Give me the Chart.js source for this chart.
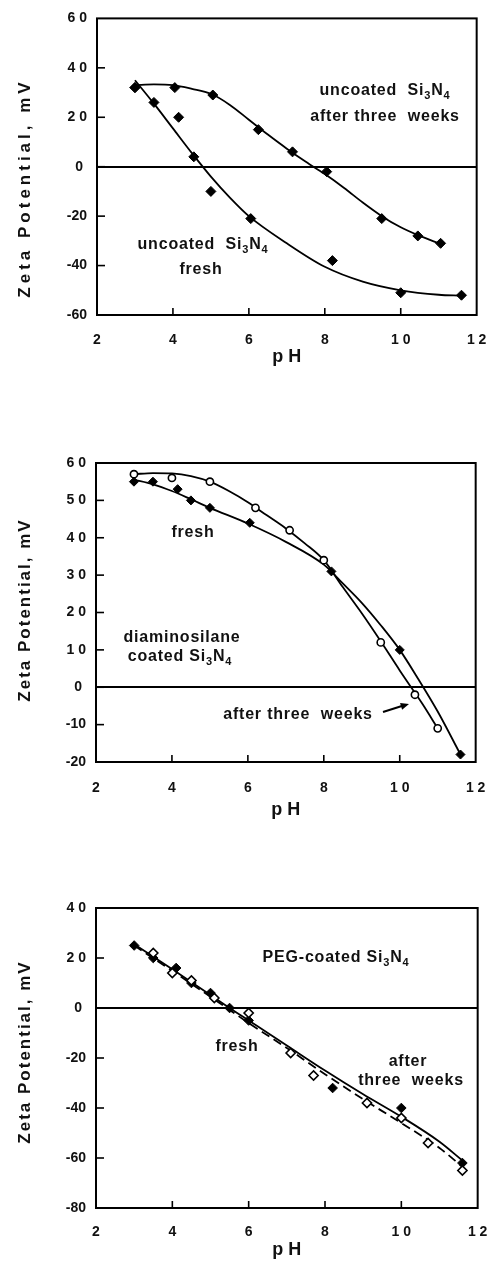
<!DOCTYPE html>
<html><head><meta charset="utf-8">
<script src="https://cdn.jsdelivr.net/npm/chart.js@4"></script>
<style>
html,body{margin:0;padding:0;background:#fff;width:503px;height:1262px;overflow:hidden;}
canvas{position:absolute;left:0;}
</style></head><body>
<canvas id="c1" width="503" height="380" style="top:0px"></canvas>
<canvas id="c2" width="503" height="430" style="top:400px"></canvas>
<canvas id="c3" width="503" height="402" style="top:860px"></canvas>
<script>
// ---------- DATA ----------
const xTickVals = [2, 4, 6, 8, 10, 12];
const xTickLabels = ["2", "4", "6", "8", "1 0", "1 2"];

// Panel 1: uncoated Si3N4
const yTickVals1 = [-60, -40, -20, 0, 20, 40, 60];
const yTickLabels1 = ["-60", "-40", "-20", "0 ", "2 0", "4 0", "6 0"];
const phFresh1 = [3.0, 3.5, 4.15, 4.55, 5.0, 6.05, 8.2, 10.0, 11.6];
const zetaFresh1 = [32, 26, 20, 4, -10, -21, -38, -51, -52];
const phAged1 = [3.0, 4.05, 5.05, 6.25, 7.15, 8.05, 9.5, 10.45, 11.05];
const zetaAged1 = [32, 32, 29, 15, 6, -2, -21, -28, -31];
const phFitFresh1 = [3.0, 3.5, 4.0, 4.5, 5.0, 5.5, 6.0, 7.0, 8.0, 9.0, 10.0, 11.0, 11.6];
const zetaFitFresh1 = [35, 25.5, 15.5, 5.5, -4, -12.5, -20, -31, -40.5, -46.5, -50, -51.8, -52.2];
const phFitAged1 = [3.0, 3.5, 4.0, 4.5, 5.0, 5.5, 6.0, 6.5, 7.0, 7.5, 8.0, 8.5, 9.0, 9.5, 10.0, 10.5, 11.05];
const zetaFitAged1 = [33, 33.3, 33, 31.5, 29.5, 25, 19, 13, 7.3, 2, -3, -8.5, -14.5, -20, -24.5, -28, -31.3];

// Panel 2: diaminosilane coated Si3N4
const yTickVals2 = [-20, -10, 0, 10, 20, 30, 40, 50, 60];
const yTickLabels2 = ["-20", "-10", "0 ", "1 0", "2 0", "3 0", "4 0", "5 0", "6 0"];
const phFresh2 = [3.0, 3.5, 4.15, 4.5, 5.0, 6.05, 8.2, 10.0, 11.6];
const zetaFresh2 = [55, 55, 53, 50, 48, 44, 31, 10, -18];
const phAged2 = [3.0, 4.0, 5.0, 6.2, 7.1, 8.0, 9.5, 10.4, 11.0];
const zetaAged2 = [57, 56, 55, 48, 42, 34, 12, -2, -11];
const phFitFresh2 = [3.0, 3.5, 4.0, 4.5, 5.0, 6.0, 7.0, 8.0, 8.5, 9.0, 9.5, 10.0, 10.5, 11.0, 11.6];
const zetaFitFresh2 = [55.5, 54.3, 52.5, 50.3, 48, 43.8, 38.9, 32.8, 27.8, 22.6, 16.6, 10, 2, -6.5, -18];
const phFitAged2 = [3.0, 3.5, 4.0, 4.5, 5.0, 5.5, 6.0, 6.5, 7.0, 7.5, 8.0, 8.5, 9.0, 9.5, 10.0, 10.3, 10.6, 11.0];
const zetaFitAged2 = [57, 57.3, 57.2, 56.5, 55, 52.5, 49.5, 46, 42.5, 38.5, 34, 26.8, 19.8, 12.3, 4.5, 0, -4.5, -11];

// Panel 3: PEG-coated Si3N4
const yTickVals3 = [-80, -60, -40, -20, 0, 20, 40];
const yTickLabels3 = ["-80", "-60", "-40", "-20", "0 ", "2 0", "4 0"];
const phFresh3 = [3.0, 3.5, 4.1, 4.5, 5.0, 5.5, 6.0, 8.2, 10.0, 11.6];
const zetaFresh3 = [25, 20, 16, 10, 6, 0, -5, -32, -40, -62];
const phAged3 = [3.5, 4.0, 4.5, 5.1, 6.0, 7.1, 7.7, 9.1, 10.0, 10.7, 11.6];
const zetaAged3 = [22, 14, 11, 4, -2, -18, -27, -38, -44, -54, -65];
const phFitFresh3 = [3.0, 4.0, 5.0, 5.5, 6.0, 7.0, 8.0, 9.0, 10.0, 11.0, 11.6];
const zetaFitFresh3 = [25.5, 15.5, 5.2, 0, -5, -15, -25, -34.5, -43.5, -53.5, -61];
const phFitAged3 = [3.0, 4.0, 5.0, 6.0, 7.0, 8.0, 9.0, 10.0, 11.0, 11.6];
const zetaFitAged3 = [25, 14.8, 4.5, -6, -16, -26.5, -36.5, -46, -56, -63.5];

// ---------- HELPERS ----------
const FONT = "'Liberation Sans', Arial, Helvetica, sans-serif";
const INK = '#111';
const pts = (xs, ys) => xs.map((x, i) => ({x, y: ys[i]}));

function pointSet(xs, ys, style, filled, r) {
  return {data: pts(xs, ys), showLine: false, pointStyle: style, pointRadius: r, pointHoverRadius: r,
    pointBackgroundColor: filled ? '#000' : '#fff', pointBorderColor: '#000', pointBorderWidth: filled ? 1 : 1.6};
}
function lineSet(xs, ys, dash) {
  return {data: pts(xs, ys), showLine: true, pointRadius: 0, borderColor: '#000', borderWidth: 1.8,
    cubicInterpolationMode: 'monotone', borderDash: dash || [], fill: false};
}
function setLS(ctx, ls) { if ('letterSpacing' in ctx) ctx.letterSpacing = ls + 'px'; }
function drawRich(ctx, segs, cx, cy, size, ls) {
  const main = `bold ${size}px ${FONT}`, sub = `bold ${Math.round(size * 0.68)}px ${FONT}`;
  setLS(ctx, ls);
  let total = 0;
  const widths = segs.map(s => { ctx.font = s[1] ? sub : main; const w = ctx.measureText(s[0]).width; total += w; return w; });
  let x = cx - total / 2;
  ctx.textAlign = 'left'; ctx.textBaseline = 'middle'; ctx.fillStyle = INK;
  segs.forEach((s, i) => { ctx.font = s[1] ? sub : main; ctx.fillText(s[0], x, cy + (s[1] ? size * 0.32 : 0)); x += widths[i]; });
}

function makePanel(id, top, area, yMin, yMax, yStep, yVals, yLabels, datasets, texts, ytitle, arrow, tickPad, titlePad) {
  const cv = document.getElementById(id);
  const H = cv.height;
  const framePlugin = {
    id: 'frame' + id,
    beforeDatasetsDraw(chart) {
      const {ctx, chartArea: a, scales: {x, y}} = chart;
      ctx.save();
      ctx.strokeStyle = '#000'; ctx.lineWidth = 2;
      ctx.strokeRect(a.left, a.top, a.right - a.left, a.bottom - a.top);
      ctx.lineWidth = 1.6;
      x.ticks.forEach(t => {
        if (t.value > x.min && t.value < x.max) {
          const px = x.getPixelForValue(t.value);
          ctx.beginPath(); ctx.moveTo(px, a.bottom); ctx.lineTo(px, a.bottom - 7); ctx.stroke();
        }
      });
      y.ticks.forEach(t => {
        if (t.value > y.min && t.value < y.max) {
          const py = y.getPixelForValue(t.value);
          ctx.beginPath(); ctx.moveTo(a.left, py); ctx.lineTo(a.left + 8, py); ctx.stroke();
        }
      });
      ctx.restore();
    },
    afterDraw(chart) {
      const ctx = chart.ctx;
      ctx.save();
      texts.forEach(t => drawRich(ctx, t.segs, t.x, t.y - top, 16, 0.8));
      // y axis title
      ctx.save();
      ctx.translate(ytitle.x, ytitle.y - top);
      ctx.rotate(-Math.PI / 2);
      ctx.font = `bold 17px ${FONT}`;
      setLS(ctx, ytitle.ls);
      ctx.textAlign = 'center'; ctx.textBaseline = 'middle'; ctx.fillStyle = INK;
      ctx.fillText('Zeta Potential, mV', 0, 0);
      ctx.restore();
      if (arrow) {
        const [x1, y1, x2, y2] = [arrow[0], arrow[1] - top, arrow[2], arrow[3] - top];
        ctx.strokeStyle = '#000'; ctx.fillStyle = '#000'; ctx.lineWidth = 2;
        ctx.beginPath(); ctx.moveTo(x1, y1); ctx.lineTo(x2 - 4, y2 + 1); ctx.stroke();
        const ang = Math.atan2(y2 - y1, x2 - x1);
        ctx.beginPath();
        ctx.moveTo(x2, y2);
        ctx.lineTo(x2 - 9 * Math.cos(ang - 0.4), y2 - 9 * Math.sin(ang - 0.4));
        ctx.lineTo(x2 - 9 * Math.cos(ang + 0.4), y2 - 9 * Math.sin(ang + 0.4));
        ctx.closePath(); ctx.fill();
      }
      ctx.restore();
    }
  };
  return new Chart(cv, {
    type: 'scatter',
    data: {datasets},
    options: {
      responsive: false, animation: false, devicePixelRatio: 1,
      events: [],
      layout: {padding: {left: 0, top: area.top - top, right: 503 - area.right, bottom: 0}},
      plugins: {legend: {display: false}, tooltip: {enabled: false}},
      scales: {
        x: {
          type: 'linear', position: 'bottom', min: 2, max: 12,
          afterFit: s => { s.height = H - (area.bottom - top); },
          ticks: {stepSize: 2, autoSkip: false, maxRotation: 0, padding: tickPad, color: INK,
            font: {family: FONT, size: 14, weight: 'bold'},
            callback: v => { const i = xTickVals.indexOf(v); return i >= 0 ? xTickLabels[i] : ''; }},
          grid: {display: false, drawTicks: false, tickLength: 0},
          border: {display: false},
          title: {display: true, text: 'p H', color: INK, font: {family: FONT, size: 18, weight: 'bold'},
            padding: {top: 0, bottom: titlePad}}
        },
        y: {
          type: 'linear', position: 'left', min: yMin, max: yMax,
          afterFit: s => { s.width = area.left; },
          ticks: {stepSize: yStep, autoSkip: false, padding: 10, color: INK,
            font: {family: FONT, size: 14, weight: 'bold'},
            callback: v => { const i = yVals.indexOf(v); return i >= 0 ? yLabels[i] : ''; }},
          grid: {display: true, drawTicks: false, tickLength: 0, lineWidth: 2,
            color: c => (c.tick && c.tick.value === 0) ? '#000' : 'rgba(0,0,0,0)'},
          border: {display: false}
        }
      }
    },
    plugins: [framePlugin]
  });
}

const SI = [['Si'], ['3', 1], ['N'], ['4', 1]];

makePanel('c1', 0, {left: 97, right: 484, top: 16, bottom: 315}, -60, 60, 20, yTickVals1, yTickLabels1,
  [
    pointSet(phFresh1, zetaFresh1, 'rectRot', true, 5),
    pointSet(phAged1, zetaAged1, 'rectRot', true, 5),
    lineSet(phFitFresh1, zetaFitFresh1),
    lineSet(phFitAged1, zetaFitAged1)
  ],
  [
    {x: 385, y: 91, segs: [['uncoated  ']].concat(SI)},
    {x: 385, y: 117, segs: [['after three  weeks']]},
    {x: 203, y: 245, segs: [['uncoated  ']].concat(SI)},
    {x: 201, y: 270, segs: [['fresh']]}
  ],
  {x: 25, y: 188, ls: 4}, null, 16.6, 12);

makePanel('c2', 400, {left: 96, right: 484, top: 463, bottom: 762}, -20, 60, 10, yTickVals2, yTickLabels2,
  [
    pointSet(phAged2, zetaAged2, 'circle', false, 3.6),
    pointSet(phFresh2, zetaFresh2, 'rectRot', true, 4.5),
    lineSet(phFitFresh2, zetaFitFresh2),
    lineSet(phFitAged2, zetaFitAged2)
  ],
  [
    {x: 193, y: 533, segs: [['fresh']]},
    {x: 182, y: 638, segs: [['diaminosilane']]},
    {x: 180, y: 657, segs: [['coated ']].concat(SI)},
    {x: 298, y: 715, segs: [['after three  weeks']]}
  ],
  {x: 25, y: 610, ls: 2}, [383, 712, 409, 704], 17.6, 9);

makePanel('c3', 860, {left: 96, right: 483, top: 908, bottom: 1208}, -80, 40, 20, yTickVals3, yTickLabels3,
  [
    pointSet(phAged3, zetaAged3, 'rectRot', false, 4.6),
    pointSet(phFresh3, zetaFresh3, 'rectRot', true, 4.8),
    lineSet(phFitFresh3, zetaFitFresh3),
    lineSet(phFitAged3, zetaFitAged3, [9, 5])
  ],
  [
    {x: 336, y: 958, segs: [['PEG-coated ']].concat(SI)},
    {x: 237, y: 1047, segs: [['fresh']]},
    {x: 408, y: 1062, segs: [['after']]},
    {x: 411, y: 1081, segs: [['three  weeks']]}
  ],
  {x: 25, y: 1052, ls: 2}, null, 15.6, 1);
</script>
</body></html>
